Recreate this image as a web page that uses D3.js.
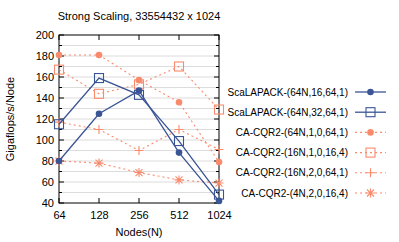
<!DOCTYPE html>
<html>
<head>
<meta charset="utf-8">
<script src="https://cdn.jsdelivr.net/npm/d3@7"></script>
<style>
body { margin: 0; background: #fff; }
svg { font-family: "Liberation Sans", Arial, sans-serif; }
</style>
</head>
<body>
<svg width="399" height="242"></svg>
<script>
//chart data
var nodes = ['64', '128', '256', '512', '1024'];
var seriesNames = ['ScaLAPACK-(64N,16,64,1)', 'ScaLAPACK-(64N,32,64,1)',
                   'CA-CQR2-(64N,1,0,64,1)', 'CA-CQR2-(16N,1,0,16,4)',
                   'CA-CQR2-(16N,2,0,64,1)', 'CA-CQR2-(4N,2,0,16,4)'];
var sl16 = [80, 125, 147, 88, 42];
var sl32 = [115, 159, 143, 99, 48];
var cq64 = [181, 181, 157, 136, 79];
var cq16a = [167, 144, 153, 170, 129];
var cq16b = [117, 110, 90, 110, 91];
var cq4 = [80, 78, 69, 62, 59];
var yTicks = [40, 60, 80, 100, 120, 140, 160, 180, 200];

var BLUE = '#3a5596';
var ORANGE = '#fa8a6c';

var series = [
  {name: seriesNames[0], values: sl16, color: BLUE, dash: null, marker: 'circle'},
  {name: seriesNames[1], values: sl32, color: BLUE, dash: null, marker: 'square'},
  {name: seriesNames[2], values: cq64, color: ORANGE, dash: '2,3', marker: 'circle'},
  {name: seriesNames[3], values: cq16a, color: ORANGE, dash: '2,3', marker: 'square'},
  {name: seriesNames[4], values: cq16b, color: ORANGE, dash: '2,3', marker: 'plus'},
  {name: seriesNames[5], values: cq4, color: ORANGE, dash: '2,3', marker: 'star'}
];

var svg = d3.select('svg');
var L = 59, R = 219, T = 35, B = 203;

var x = d3.scalePoint().domain(nodes).range([L, R]);
var y = d3.scaleLinear().domain([40, 200]).range([B, T]);

//grid lines every 10
var grid = d3.range(50, 200, 10);
svg.append('g').selectAll('line').data(grid).enter().append('line')
   .attr('x1', L).attr('x2', R)
   .attr('y1', function(d) { return y(d); }).attr('y2', function(d) { return y(d); })
   .attr('stroke', '#dcdcdc').attr('stroke-width', 1);

//ticks, inward
var minor = d3.range(40, 201, 10);
svg.append('g').selectAll('line').data(minor).enter().append('line')
   .attr('x1', L).attr('x2', function(d) { return L + (d % 20 == 0 ? 5 : 3); })
   .attr('y1', function(d) { return y(d); }).attr('y2', function(d) { return y(d); })
   .attr('stroke', '#000');
svg.append('g').selectAll('line').data(minor).enter().append('line')
   .attr('x1', R).attr('x2', function(d) { return R - (d % 20 == 0 ? 5 : 3); })
   .attr('y1', function(d) { return y(d); }).attr('y2', function(d) { return y(d); })
   .attr('stroke', '#000');
svg.append('g').selectAll('line').data(nodes).enter().append('line')
   .attr('x1', function(d) { return x(d); }).attr('x2', function(d) { return x(d); })
   .attr('y1', B).attr('y2', B - 5).attr('stroke', '#000');
svg.append('g').selectAll('line').data(nodes).enter().append('line')
   .attr('x1', function(d) { return x(d); }).attr('x2', function(d) { return x(d); })
   .attr('y1', T).attr('y2', T + 5).attr('stroke', '#000');

//axis labels via d3 axes (no tick lines)
svg.append('g')
   .attr('transform', 'translate(0,' + B + ')')
   .call(d3.axisBottom(x).tickSize(0).tickPadding(8))
   .call(function(g) { g.select('.domain').remove(); })
   .selectAll('text').attr('font-size', 11).attr('font-family', '"Liberation Sans", Arial, sans-serif').attr('fill', '#000');
svg.append('g')
   .attr('transform', 'translate(' + L + ',0)')
   .call(d3.axisLeft(y).tickValues(yTicks).tickSize(0).tickPadding(5))
   .call(function(g) { g.select('.domain').remove(); })
   .selectAll('text').attr('font-size', 11).attr('font-family', '"Liberation Sans", Arial, sans-serif').attr('fill', '#000');

//frame
svg.append('rect').attr('x', L).attr('y', T).attr('width', R - L).attr('height', B - T)
   .attr('fill', 'none').attr('stroke', '#000').attr('stroke-width', 1);

//titles
svg.append('text').attr('x', 139).attr('y', 20).attr('text-anchor', 'middle')
   .attr('font-size', 11).text('Strong Scaling, 33554432 x 1024');
svg.append('text').attr('x', 139).attr('y', 236).attr('text-anchor', 'middle')
   .attr('font-size', 11).text('Nodes(N)');
svg.append('text').attr('transform', 'translate(14,' + ((T + B) / 2) + ') rotate(-90)')
   .attr('text-anchor', 'middle').attr('font-size', 11).text('Gigaflops/s/Node');

function drawMarker(g, type, cx, cy, color) {
  if (type == 'circle') {
    g.append('circle').attr('cx', cx).attr('cy', cy).attr('r', 3.3).attr('fill', color);
  } else if (type == 'square') {
    g.append('rect').attr('x', cx - 4.5).attr('y', cy - 4.5).attr('width', 9).attr('height', 9)
     .attr('fill', 'none').attr('stroke', color).attr('stroke-width', 1.1);
  } else if (type == 'plus') {
    g.append('path').attr('d', 'M' + (cx - 4.5) + ',' + cy + 'H' + (cx + 4.5) + 'M' + cx + ',' + (cy - 4.5) + 'V' + (cy + 4.5))
     .attr('stroke', color).attr('stroke-width', 1.1);
  } else {
    var a = 3.5;
    g.append('path').attr('d', 'M' + (cx - 4.5) + ',' + cy + 'H' + (cx + 4.5) + 'M' + cx + ',' + (cy - 4.5) + 'V' + (cy + 4.5) +
        'M' + (cx - a) + ',' + (cy - a) + 'L' + (cx + a) + ',' + (cy + a) + 'M' + (cx - a) + ',' + (cy + a) + 'L' + (cx + a) + ',' + (cy - a))
     .attr('stroke', color).attr('stroke-width', 1.1);
  }
}

var line = d3.line()
  .x(function(d, i) { return x(nodes[i]); })
  .y(function(d) { return y(d); });

//draw series in reverse so ScaLAPACK sits on top
series.slice().reverse().forEach(function(s) {
  var g = svg.append('g');
  g.append('path').attr('d', line(s.values))
   .attr('fill', 'none').attr('stroke', s.color)
   .attr('stroke-width', s.dash ? 1.1 : 1.3)
   .attr('stroke-dasharray', s.dash);
  s.values.forEach(function(v, i) { drawMarker(g, s.marker, x(nodes[i]), y(v), s.color); });
});

//legend
series.forEach(function(s, i) {
  var ly = 92 + i * 20.2;
  var g = svg.append('g');
  g.append('text').attr('x', 348).attr('y', ly + 3.5).attr('text-anchor', 'end')
   .attr('font-size', 10).text(s.name);
  g.append('line').attr('x1', 355).attr('x2', 386).attr('y1', ly).attr('y2', ly)
   .attr('stroke', s.color).attr('stroke-width', s.dash ? 1.1 : 1.3)
   .attr('stroke-dasharray', s.dash);
  drawMarker(g, s.marker, 370.5, ly, s.color);
});
</script>
</body>
</html>
